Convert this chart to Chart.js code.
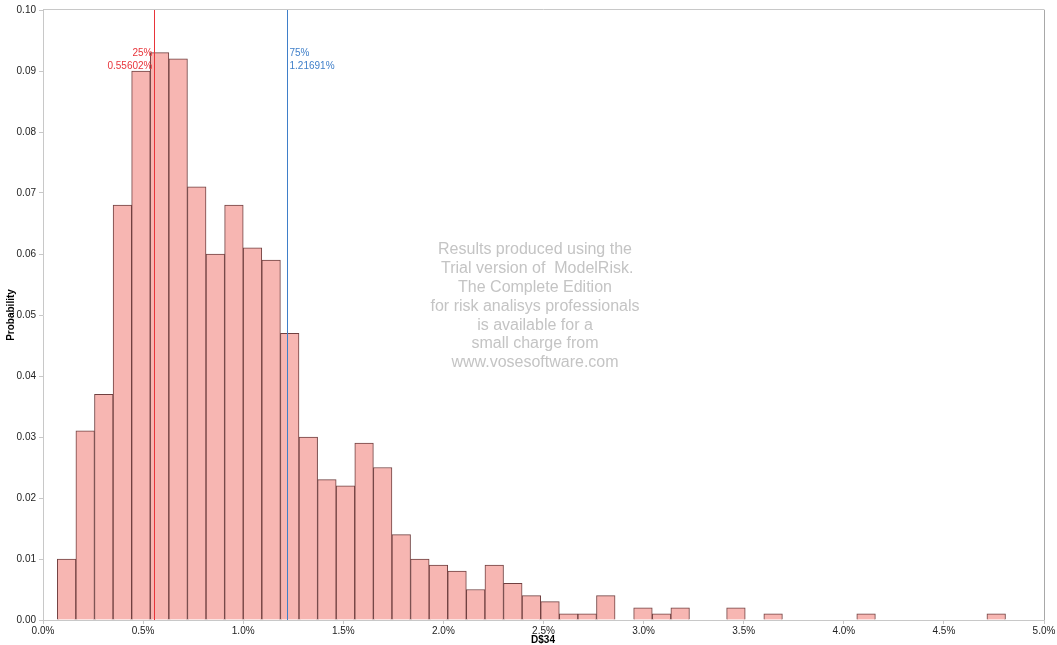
<!DOCTYPE html>
<html>
<head>
<meta charset="utf-8">
<script src="https://cdn.jsdelivr.net/npm/chart.js@4"></script>
<style>
  html, body { margin: 0; padding: 0; background: #fff; }
  #wrap { width: 1057px; height: 645px; }
</style>
</head>
<body>
<div id="wrap"><canvas id="chart" width="1057" height="645"></canvas></div>
<script>
// bin centres (% of D$34) and probability of each bin
const binCenters = [
  0.1178, 0.2107, 0.3036, 0.3965, 0.4893, 0.5822, 0.6751, 0.7679, 0.8608, 0.9537,
  1.0465, 1.1394, 1.2323, 1.3252, 1.4180, 1.5109, 1.6038, 1.6966, 1.7895, 1.8824,
  1.9752, 2.0681, 2.1610, 2.2539, 2.3467, 2.4396, 2.5325, 2.6253, 2.7182, 2.8111,
  2.9039, 2.9968, 3.0897, 3.1826, 3.2754, 3.3683, 3.4612, 3.5540, 3.6469, 3.7398,
  3.8326, 3.9255, 4.0184, 4.1113, 4.2041, 4.2970, 4.3899, 4.4827, 4.5756, 4.6685,
  4.7613
];
const probability = [
  0.010, 0.031, 0.037, 0.068, 0.090, 0.093, 0.092, 0.071, 0.060, 0.068,
  0.061, 0.059, 0.047, 0.030, 0.023, 0.022, 0.029, 0.025, 0.014, 0.010,
  0.009, 0.008, 0.005, 0.009, 0.006, 0.004, 0.003, 0.001, 0.001, 0.004,
  0,     0.002, 0.001, 0.002, 0,     0,     0.002, 0,     0.001, 0,
  0,     0,     0,     0.001, 0,     0,     0,     0,     0,     0,
  0.001
];

// percentile markers
const pctNames = ['25%', '75%'];
const pctValues = [0.55602, 1.21691];
const pctColors = ['#e8343a', '#3f7fc9'];

// watermark lines
const watermark = [
  'Results produced using the',
  ' Trial version of  ModelRisk.',
  'The Complete Edition',
  'for risk analisys professionals',
  'is available for a',
  'small charge from',
  'www.vosesoftware.com'
];

const FONT = '"Liberation Sans", Arial, sans-serif';

const overlay = {
  id: 'overlay',
  beforeDatasetsDraw(c) {
    const ctx = c.ctx;
    // watermark
    ctx.save();
    ctx.fillStyle = '#c4c4c4';
    ctx.font = '16px ' + FONT;
    ctx.textAlign = 'center';
    ctx.textBaseline = 'middle';
    watermark.forEach((t, i) => ctx.fillText(t, 535, 250 + i * 18.8));
    ctx.restore();
  },
  afterDatasetsDraw(c) {
    const ctx = c.ctx, a = c.chartArea, xs = c.scales.x;
    ctx.save();
    // frame top / right
    ctx.strokeStyle = '#c8c8c8';
    ctx.lineWidth = 1;
    ctx.beginPath();
    ctx.moveTo(a.left, a.top - 0.5);
    ctx.lineTo(a.right + 0.5, a.top - 0.5);
    ctx.stroke();
    ctx.strokeStyle = '#a8a8a8';
    ctx.beginPath();
    ctx.moveTo(a.right + 0.5, a.top);
    ctx.lineTo(a.right + 0.5, a.bottom);
    ctx.stroke();

    // percentile lines
    ctx.font = '10px ' + FONT;
    ctx.textBaseline = 'middle';
    pctValues.forEach((v, i) => {
      const px = Math.round(xs.getPixelForValue(v)) + 0.5;
      ctx.strokeStyle = pctColors[i];
      ctx.beginPath();
      ctx.moveTo(px, a.top);
      ctx.lineTo(px, a.bottom);
      ctx.stroke();
      ctx.fillStyle = pctColors[i];
      const label = v.toFixed(5) + '%';
      if (i === 0) {
        ctx.textAlign = 'right';
        ctx.fillText(pctNames[i], px - 2, 53);
        ctx.fillText(label, px - 2, 66);
      } else {
        ctx.textAlign = 'left';
        ctx.fillText(pctNames[i], px + 2, 53);
        ctx.fillText(label, px + 2, 66);
      }
    });

    // axis titles
    ctx.fillStyle = '#000';
    ctx.font = 'bold 10px ' + FONT;
    ctx.textAlign = 'center';
    ctx.fillText('D$34', 543, 640);
    ctx.translate(11, 315);
    ctx.rotate(-Math.PI / 2);
    ctx.fillText('Probability', 0, 0);
    ctx.restore();
  }
};

new Chart(document.getElementById('chart').getContext('2d'), {
  type: 'bar',
  data: {
    datasets: [{
      label: 'Probability',
      data: binCenters.map((x, i) => ({ x: x, y: probability[i] })),
      backgroundColor: '#f7b6b2',
      borderColor: '#704040',
      borderWidth: 1,
      barPercentage: 1,
      categoryPercentage: 1
    }]
  },
  options: {
    responsive: false,
    animation: false,
    layout: { padding: { top: 10, right: 13, left: 0, bottom: 0 } },
    plugins: { legend: { display: false }, tooltip: { enabled: false } },
    scales: {
      x: {
        type: 'linear',
        offset: false,
        min: 0, max: 5,
        afterFit(s) { s.height = 25; },
        grid: { offset: false, drawOnChartArea: false, drawTicks: true, tickLength: 4, color: '#c8c8c8' },
        border: { color: '#c8c8c8' },
        ticks: {
          stepSize: 0.5, padding: 1, maxRotation: 0, autoSkip: false,
          color: '#222', font: { family: FONT, size: 10 },
          callback: v => v.toFixed(1) + '%'
        }
      },
      y: {
        min: 0, max: 0.1,
        afterFit(s) { s.width = 43; },
        grid: { drawOnChartArea: false, drawTicks: true, tickLength: 4, color: '#c8c8c8' },
        border: { color: '#c8c8c8' },
        ticks: {
          stepSize: 0.01, padding: 3,
          color: '#222', font: { family: FONT, size: 10 },
          callback: v => v.toFixed(2)
        }
      }
    }
  },
  plugins: [overlay]
});
</script>
</body>
</html>
